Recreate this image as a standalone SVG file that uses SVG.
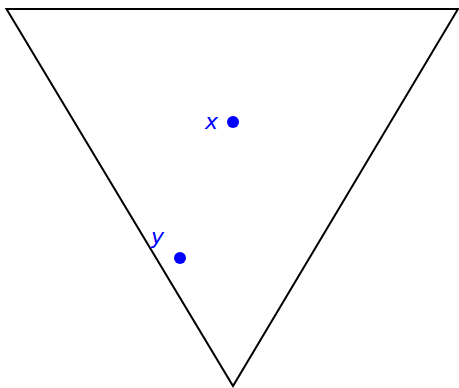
<svg xmlns="http://www.w3.org/2000/svg" width="459" height="388" viewBox="0 0 459 388">
<style>
.lbl{font-family:"DejaVu Sans",sans-serif;font-style:italic;font-size:22px;fill:#0000ff}
.pt{fill:#0000ff}
</style>
<rect width="459" height="388" fill="#ffffff"/>
<g id="triangle">
<polygon points="6.5,9 458,9 233,386" fill="none" stroke="#000000" stroke-width="2" stroke-linejoin="miter"/>
</g>
<g id="node-x">
<circle class="pt" cx="233" cy="122" r="6"/>
<text class="lbl" x="205" y="129">x</text>
</g>
<g id="node-y">
<circle class="pt" cx="180" cy="258" r="6"/>
<text class="lbl" x="151" y="244">y</text>
</g>
<g id="connectors"></g>
</svg>
